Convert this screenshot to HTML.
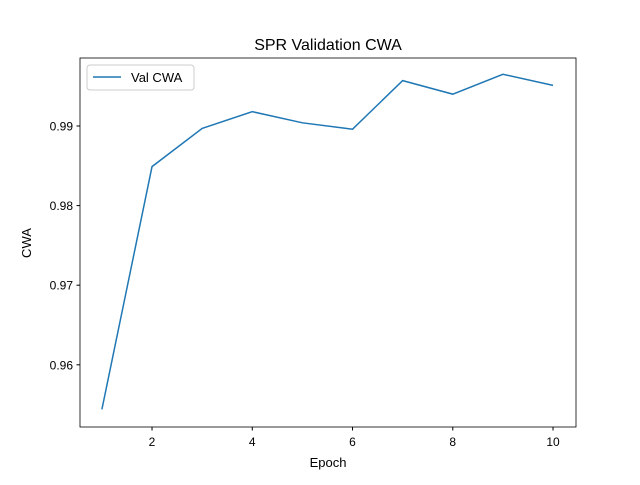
<!DOCTYPE html>
<html><head><meta charset="utf-8"><style>
body{margin:0;background:#fff}
svg text{font-family:"Liberation Sans","DejaVu Sans",sans-serif;fill:#000}
</style></head><body>
<svg width="640" height="480" xmlns="http://www.w3.org/2000/svg">
<rect width="640" height="480" fill="#fff"/>
<text x="328" y="50" font-size="16" text-anchor="middle">SPR Validation CWA</text>
<g id="ticks"></g>
<polyline id="line" fill="none" stroke="#1f77b4" stroke-width="1.5"/>
<rect x="80" y="58" width="496" height="369" fill="none" stroke="#000" stroke-width="0.8"/>
<text x="328" y="467" font-size="13" text-anchor="middle">Epoch</text>
<text x="31" y="243" font-size="13" text-anchor="middle" transform="rotate(-90 31 243)">CWA</text>
<g>
<rect x="87" y="65" width="107" height="25" rx="3" fill="#fff" stroke="#ccc"/>
<line x1="93" y1="77" x2="121" y2="77" stroke="#1f77b4" stroke-width="1.5"/>
<text x="131" y="82" font-size="13">Val CWA</text>
</g>
</svg>
<script>
const epochs=[1,2,3,4,5,6,7,8,9,10];
const cwa=[0.9544,0.9849,0.9897,0.9918,0.9904,0.9896,0.9957,0.9940,0.9965,0.9951];
const xTicks=[2,4,6,8,10];
const yTicks=[0.96,0.97,0.98,0.99];
const yLabels=["0.96","0.97","0.98","0.99"];
function xs(v){return 101.9+(v-1)*50.125;}
function ys(v){return 126-(v-0.99)*7960;}
const ns="http://www.w3.org/2000/svg";
const g=document.getElementById('ticks');
xTicks.forEach(t=>{
 const l=document.createElementNS(ns,'line');
 l.setAttribute('x1',xs(t));l.setAttribute('x2',xs(t));l.setAttribute('y1',427);l.setAttribute('y2',430.5);l.setAttribute('stroke','#000');
 
 
 g.appendChild(l);
 const tx=document.createElementNS(ns,'text');
 tx.setAttribute('x',xs(t));tx.setAttribute('y',446);tx.setAttribute('font-size','12');tx.setAttribute('text-anchor','middle');tx.textContent=t;
 
 
 g.appendChild(tx);
});
yTicks.forEach((t,i)=>{
 const l=document.createElementNS(ns,'line');
 l.setAttribute('x1',76.5);l.setAttribute('x2',80);l.setAttribute('y1',ys(t));l.setAttribute('y2',ys(t));l.setAttribute('stroke','#000');
 
 
 g.appendChild(l);
 const tx=document.createElementNS(ns,'text');
 tx.setAttribute('x',73);tx.setAttribute('y',ys(t)+4.5);tx.setAttribute('font-size','12');tx.setAttribute('text-anchor','end');tx.textContent=yLabels[i];
 
 
 g.appendChild(tx);
});
document.getElementById('line').setAttribute('points',epochs.map((e,i)=>xs(e)+','+ys(cwa[i])).join(' '));
</script>
</body></html>
